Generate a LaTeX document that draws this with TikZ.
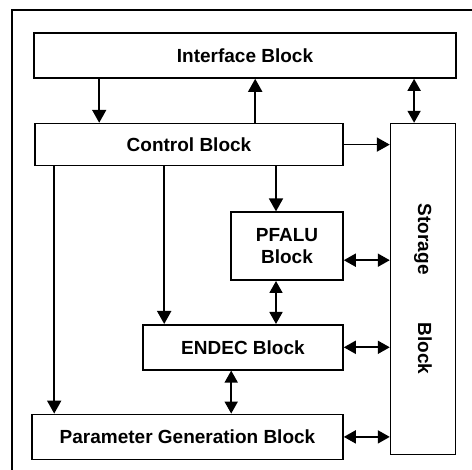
\documentclass[tikz,border=0pt]{standalone}
\usepackage{fontspec}
\setsansfont{Liberation Sans}
\usepackage{tikz}
\usetikzlibrary{arrows.meta, positioning, calc}

\newcommand{\blkfont}{\fontsize{19}{22}\selectfont\sffamily\bfseries}

\begin{document}
\begin{tikzpicture}[x=1pt, y=-1pt,
  blk/.style={draw, line width=1.6pt, minimum height=45pt,
              font=\blkfont, align=center, inner sep=2pt},
  arr/.style={-{Triangle[length=13pt, width=14pt]}, line width=1.8pt},
  darr/.style={{Triangle[length=12pt, width=13pt]}-{Triangle[length=12pt, width=13pt]},
               line width=1.8pt}
]
\useasboundingbox (0,0) rectangle (472,470);

% outer frame (only left and top edges fall inside the picture)
\draw[line width=1.6pt] (472,10) -- (12,10) -- (12,470);

% blocks
\node[blk, minimum width=422pt] (iface) at (245,55.5) {Interface Block};
\node[blk, minimum width=308pt, minimum height=42pt,
      below=44pt of iface.south west, anchor=north west, xshift=1pt] (ctrl)
      {Control Block};
\node[blk, minimum width=65pt, minimum height=331pt,
      right=46pt of ctrl.north east, anchor=north west,
      label={[font=\blkfont, rotate=-90]center:Storage\hspace{48pt}Block}] (stor) {};
\node[blk, minimum width=112pt, minimum height=68pt,
      below=45pt of ctrl.south east, anchor=north east] (pfalu) {PFALU\\Block};
\node[blk, minimum width=200pt,
      below=43pt of pfalu.south east, anchor=north east] (endec) {ENDEC Block};
\node[blk, minimum width=311pt,
      below=43pt of endec.south east, anchor=north east] (param)
      {Parameter Generation Block};

% interface <-> control / storage
\coordinate (t1) at ([xshift=65pt]ctrl.north west);
\draw[arr] (t1 |- iface.south) -- (t1);
\coordinate (t2) at ([xshift=221pt]ctrl.north west);
\draw[arr] (t2) -- (t2 |- iface.south);
\coordinate (t3) at ([xshift=-9pt]stor.north);
\draw[darr] (t3 |- iface.south) -- (t3);

% control outputs
\draw[arr] (ctrl.east) -- (ctrl.east -| stor.west);
\coordinate (t4) at ([xshift=-11pt]pfalu.north);
\draw[arr] (t4 |- ctrl.south) -- (t4);
\coordinate (t6) at ([xshift=130pt]ctrl.south west);
\draw[arr] (t6) -- (t6 |- endec.north);
\coordinate (t7) at ([xshift=20pt]ctrl.south west);
\draw[arr] (t7) -- (t7 |- param.north);

% between blocks
\draw[darr] (t4 |- pfalu.south) -- (t4 |- endec.north);
\coordinate (t8) at ([xshift=89pt]endec.south west);
\draw[darr] (t8) -- (t8 |- param.north);

% to storage
\coordinate (t5) at ([yshift=-14pt]pfalu.east);
\draw[darr] (t5) -- (t5 -| stor.west);
\draw[darr] (endec.east) -- (endec.east -| stor.west);
\draw[darr] (param.east) -- (param.east -| stor.west);
\end{tikzpicture}
\end{document}
